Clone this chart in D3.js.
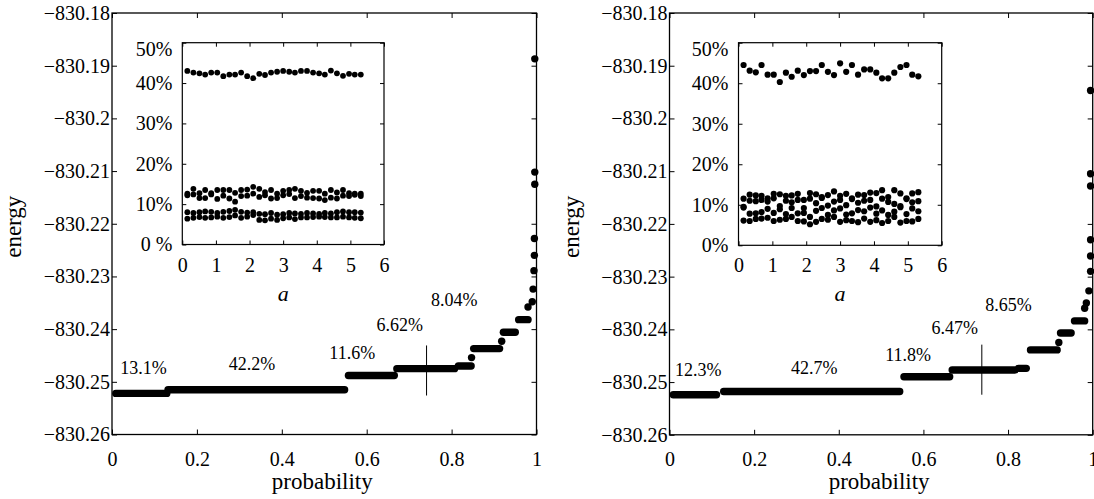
<!DOCTYPE html>
<html>
<head>
<meta charset="utf-8">
<script src="https://cdn.jsdelivr.net/npm/d3@7"></script>
<style>
body { margin: 0; background: #fff; }
text { font-family: "Liberation Serif", "Times New Roman", serif; fill: #000; }
</style>
</head>
<body>
<script>
// ticks
const mainXTicks = [0, 0.2, 0.4, 0.6, 0.8, 1];
const mainYTicks = [-830.26, -830.25, -830.24, -830.23, -830.22, -830.21, -830.2, -830.19, -830.18];
const insetXTicks = [0, 1, 2, 3, 4, 5, 6];
const insetYTicks = [0, 10, 20, 30, 40, 50];
const leftInsetYLabels = ['0 %', '10%', '20%', '30%', '40%', '50%'];
const rightInsetYLabels = ['0%', '10%', '20%', '30%', '40%', '50%'];

// main plots: runs of points [pStart, pEnd, energy] and single points [p, energy]
const leftSteps = [
    [0.009, 0.129, -830.2522],
    [0.132, 0.548, -830.2515],
    [0.557, 0.665, -830.2488],
    [0.671, 0.807, -830.2475],
    [0.816, 0.846, -830.2470],
    [0.852, 0.913, -830.2437],
    [0.922, 0.950, -830.2406],
    [0.958, 0.980, -830.2382]
];
const leftPoints = [
    [0.847, -830.2454], [0.918, -830.2423], [0.980, -830.2358], [0.990, -830.2348],
    [0.992, -830.2324], [0.994, -830.2289], [0.995, -830.2260], [0.995, -830.2228],
    [0.996, -830.2125], [0.996, -830.2102], [0.996, -830.1887]
];
const rightSteps = [
    [0.009, 0.111, -830.2524],
    [0.128, 0.544, -830.2518],
    [0.554, 0.662, -830.2490],
    [0.668, 0.816, -830.2477],
    [0.825, 0.843, -830.2474],
    [0.853, 0.916, -830.2439],
    [0.924, 0.949, -830.2407],
    [0.957, 0.981, -830.2384]
];
const rightPoints = [
    [0.920, -830.2425], [0.981, -830.2360], [0.985, -830.2350], [0.991, -830.2327],
    [0.995, -830.2290], [0.995, -830.2261], [0.995, -830.2230], [0.995, -830.2128],
    [0.995, -830.2105], [0.995, -830.1947]
];
// vertical marker [p, energyTop, energyBottom]
const leftMarker = [0.741, -830.2431, -830.2526];
const rightMarker = [0.738, -830.2429, -830.2524];
// annotations [text, p, energy]
const leftLabels = [
    ['13.1%', 0.074, -830.2485], ['42.2%', 0.330, -830.2478], ['11.6%', 0.566, -830.2457],
    ['6.62%', 0.678, -830.2403], ['8.04%', 0.806, -830.2357]
];
const rightLabels = [
    ['12.3%', 0.068, -830.2489], ['42.7%', 0.342, -830.2484], ['11.8%', 0.564, -830.2460],
    ['6.47%', 0.674, -830.2409], ['8.65%', 0.801, -830.2365]
];

// insets: share (%) against a
const aValues = [0.15, 0.33, 0.51, 0.68, 0.86, 1.04, 1.22, 1.40, 1.57, 1.75, 1.93, 2.11, 2.29, 2.46, 2.64,
    2.82, 3.00, 3.18, 3.35, 3.53, 3.71, 3.89, 4.07, 4.24, 4.42, 4.60, 4.78, 4.96, 5.13, 5.31];
const leftShares = [
    [43.0, 42.6, 42.4, 42.1, 42.6, 42.6, 41.7, 42.1, 42.1, 42.6, 41.7, 41.2, 42.3, 42.0, 42.6,
        42.8, 43.0, 42.8, 42.6, 43.0, 43.0, 42.6, 42.4, 42.1, 43.1, 42.4, 41.8, 42.3, 42.1, 42.1],
    [12.6, 13.8, 12.7, 13.5, 12.7, 13.5, 13.5, 13.5, 12.8, 13.5, 13.6, 14.3, 13.8, 13.0, 13.5,
        12.6, 13.3, 13.5, 13.8, 13.3, 12.8, 13.3, 13.3, 12.6, 13.5, 12.9, 13.5, 12.7, 12.6, 12.6],
    [12.2, 12.4, 11.5, 11.5, 12.4, 11.3, 12.1, 11.4, 10.6, 12.0, 12.1, 12.6, 11.8, 12.2, 11.4,
        11.5, 12.2, 12.5, 11.5, 12.0, 11.6, 11.5, 11.4, 11.0, 11.6, 11.4, 12.1, 12.0, 12.3, 12.0],
    [8.0, 7.8, 8.0, 8.2, 8.1, 7.8, 8.1, 8.3, 8.6, 8.1, 7.9, 8.0, 7.6, 7.5, 7.8,
        7.4, 7.5, 7.8, 7.7, 7.6, 7.8, 7.7, 7.6, 7.8, 7.7, 8.0, 8.2, 8.0, 8.0, 7.9],
    [6.4, 6.6, 6.8, 6.6, 6.7, 6.9, 6.6, 6.8, 7.2, 6.6, 6.9, 7.3, 6.1, 6.0, 6.4,
        6.1, 6.5, 6.7, 6.3, 6.7, 6.7, 6.8, 6.9, 6.8, 6.7, 6.7, 6.9, 6.7, 6.6, 6.5]
];
const rightShares = [
    [44.5, 43.1, 42.7, 44.5, 42.1, 42.1, 40.3, 42.6, 41.6, 43.1, 42.0, 43.0, 43.0, 44.5, 42.8,
        42.0, 44.9, 42.8, 44.5, 42.1, 43.4, 43.4, 42.6, 41.2, 41.2, 42.6, 44.0, 44.5, 42.1, 41.7],
    [11.5, 12.5, 12.3, 12.2, 11.6, 12.7, 12.6, 12.2, 12.3, 12.7, 11.2, 12.9, 12.6, 11.9, 12.4,
        13.3, 12.2, 12.7, 11.6, 12.5, 12.4, 13.0, 12.9, 13.6, 11.9, 13.6, 12.8, 11.4, 12.8, 13.1],
    [9.5, 11.0, 10.9, 11.2, 10.8, 11.6, 9.7, 11.0, 10.6, 11.2, 9.2, 11.5, 10.4, 11.7, 9.8,
        10.8, 11.2, 9.9, 11.4, 10.5, 11.0, 11.2, 9.6, 11.5, 10.7, 10.2, 9.7, 11.6, 10.6, 10.9],
    [9.3, 7.8, 7.9, 8.2, 9.0, 8.0, 8.9, 7.7, 9.2, 7.9, 8.0, 7.0, 8.5, 9.2, 7.5,
        8.6, 9.1, 7.6, 7.9, 8.7, 8.4, 9.3, 7.8, 8.6, 7.5, 8.3, 9.4, 7.7, 9.1, 8.4],
    [6.1, 6.0, 6.5, 6.6, 6.8, 6.0, 6.3, 6.5, 7.0, 6.0, 5.9, 5.2, 5.8, 6.5, 6.3,
        7.0, 5.8, 6.2, 6.0, 5.7, 6.6, 5.8, 6.2, 5.5, 6.0, 7.0, 5.6, 6.0, 5.9, 6.5]
];

const svg = d3.select('body').append('svg')
    .attr('width', 1094)
    .attr('height', 499);

svg.append('rect').attr('width', 1094).attr('height', 499).attr('fill', '#fff');

function styleAxis(sel, size) {
    sel.attr('font-size', size);
    sel.selectAll('line').attr('stroke', '#000');
    sel.select('.domain').remove();
}

function drawPanel(p) {
    const x = d3.scaleLinear().domain([0, 1]).range([p.left, p.right]);
    const y = d3.scaleLinear().domain([-830.26, -830.18]).range([p.bottom, p.top]);
    const g = svg.append('g');

    // runs of points
    g.selectAll('.step')
        .data(p.steps)
        .enter().append('line')
        .attr('x1', d => x(d[0]))
        .attr('x2', d => x(d[1]))
        .attr('y1', d => y(d[2]))
        .attr('y2', d => y(d[2]))
        .attr('stroke', '#000')
        .attr('stroke-width', 7.4)
        .attr('stroke-linecap', 'round');

    g.selectAll('.pt')
        .data(p.points)
        .enter().append('circle')
        .attr('cx', d => x(d[0]))
        .attr('cy', d => y(d[1]))
        .attr('r', 3.7)
        .attr('fill', '#000');

    g.append('line')
        .attr('x1', x(p.marker[0]))
        .attr('x2', x(p.marker[0]))
        .attr('y1', y(p.marker[1]))
        .attr('y2', y(p.marker[2]))
        .attr('stroke', '#000')
        .attr('stroke-width', 1);

    g.selectAll('.lbl')
        .data(p.labels)
        .enter().append('text')
        .attr('x', d => x(d[1]))
        .attr('y', d => y(d[2]))
        .attr('text-anchor', 'middle')
        .attr('font-size', 18)
        .text(d => d[0]);

    // axes, ticks inward on all four sides
    g.append('g')
        .attr('transform', `translate(${p.left},0)`)
        .call(d3.axisLeft(y).tickValues(mainYTicks).tickFormat(d3.format('.2~f'))
            .tickSizeInner(-5).tickSizeOuter(0).tickPadding(2))
        .call(styleAxis, 20);
    g.append('g')
        .attr('transform', `translate(${p.right},0)`)
        .call(d3.axisRight(y).tickValues(mainYTicks).tickFormat('').tickSizeInner(-5).tickSizeOuter(0))
        .call(styleAxis, 20);
    g.append('g')
        .attr('transform', `translate(0,${p.bottom})`)
        .call(d3.axisBottom(x).tickValues(mainXTicks).tickFormat(d3.format('~g'))
            .tickSizeInner(-5).tickSizeOuter(0).tickPadding(17))
        .call(styleAxis, 20);
    g.append('g')
        .attr('transform', `translate(0,${p.top})`)
        .call(d3.axisTop(x).tickValues(mainXTicks).tickFormat('').tickSizeInner(-5).tickSizeOuter(0))
        .call(styleAxis, 20);

    g.append('rect')
        .attr('x', p.left).attr('y', p.top)
        .attr('width', p.right - p.left).attr('height', p.bottom - p.top)
        .attr('fill', 'none').attr('stroke', '#000').attr('stroke-width', 1.3);

    g.append('text')
        .attr('transform', `translate(${p.left - 91},${(p.top + p.bottom) / 2 + 3}) rotate(-90)`)
        .attr('text-anchor', 'middle')
        .attr('font-size', 23)
        .text('energy');

    g.append('text')
        .attr('x', (p.left + p.right) / 2 - 2)
        .attr('y', 489)
        .attr('text-anchor', 'middle')
        .attr('font-size', 23)
        .text('probability');

    // inset
    const ix = d3.scaleLinear().domain([0, 6]).range([p.insetLeft, p.insetRight]);
    const iy = d3.scaleLinear().domain([0, 50]).range([p.insetBottom, p.insetTop]);
    const ig = g.append('g');

    ig.append('rect')
        .attr('x', p.insetLeft).attr('y', p.insetTop)
        .attr('width', p.insetRight - p.insetLeft).attr('height', p.insetBottom - p.insetTop)
        .attr('fill', '#fff');

    p.shares.forEach(series => {
        ig.append('g').selectAll('circle')
            .data(series)
            .enter().append('circle')
            .attr('cx', (d, i) => ix(aValues[i]))
            .attr('cy', d => iy(d))
            .attr('r', p.insetR)
            .attr('fill', '#000');
    });

    const yl = ig.append('g')
        .attr('transform', `translate(${p.insetLeft},0)`)
        .call(d3.axisLeft(iy).tickValues(insetYTicks).tickFormat((d, i) => p.insetYLabels[i])
            .tickSizeInner(-4).tickSizeOuter(0).tickPadding(10))
        .call(styleAxis, 20);
    // top label sits below its tick in the original
    yl.selectAll('.tick').filter(d => d === 50).select('text').attr('dy', '0.65em');

    ig.append('g')
        .attr('transform', `translate(${p.insetRight},0)`)
        .call(d3.axisRight(iy).tickValues(insetYTicks).tickFormat('').tickSizeInner(-4).tickSizeOuter(0))
        .call(styleAxis, 20);
    ig.append('g')
        .attr('transform', `translate(0,${p.insetBottom})`)
        .call(d3.axisBottom(ix).tickValues(insetXTicks).tickFormat(d3.format('d'))
            .tickSizeInner(-4).tickSizeOuter(0).tickPadding(13))
        .call(styleAxis, 20);
    ig.append('g')
        .attr('transform', `translate(0,${p.insetTop})`)
        .call(d3.axisTop(ix).tickValues(insetXTicks).tickFormat('').tickSizeInner(-4).tickSizeOuter(0))
        .call(styleAxis, 20);

    ig.append('rect')
        .attr('x', p.insetLeft).attr('y', p.insetTop)
        .attr('width', p.insetRight - p.insetLeft).attr('height', p.insetBottom - p.insetTop)
        .attr('fill', 'none').attr('stroke', '#000').attr('stroke-width', 1.2);

    ig.append('text')
        .attr('x', (p.insetLeft + p.insetRight) / 2)
        .attr('y', p.insetBottom + 56)
        .attr('text-anchor', 'middle')
        .attr('font-size', 22)
        .attr('font-style', 'italic')
        .text('a');
}

drawPanel({
    left: 112, right: 536.5, top: 13, bottom: 434.5,
    insetLeft: 182.3, insetRight: 384, insetTop: 42.7, insetBottom: 244.5, insetR: 2.9,
    steps: leftSteps, points: leftPoints, marker: leftMarker, labels: leftLabels,
    shares: leftShares, insetYLabels: leftInsetYLabels
});

drawPanel({
    left: 669.5, right: 1092.7, top: 13, bottom: 434.8,
    insetLeft: 738.5, insetRight: 941.7, insetTop: 42.7, insetBottom: 245.3, insetR: 3.1,
    steps: rightSteps, points: rightPoints, marker: rightMarker, labels: rightLabels,
    shares: rightShares, insetYLabels: rightInsetYLabels
});
</script>
</body>
</html>
